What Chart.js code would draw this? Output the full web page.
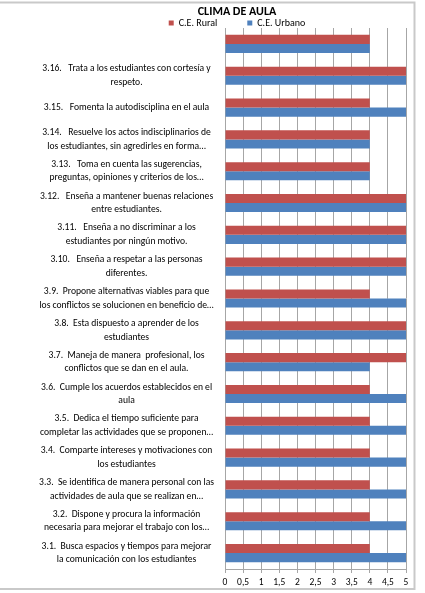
<!DOCTYPE html>
<html>
<head>
<meta charset="utf-8">
<script src="https://cdn.jsdelivr.net/npm/chart.js@4/dist/chart.umd.min.js"></script>
<style>
  html, body { margin: 0; padding: 0; background: #fff; }
  #wrap { width: 425px; height: 593px; position: relative; }
</style>
</head>
<body>
<div id="wrap"><canvas id="c" width="425" height="593"></canvas></div>
<script>
const categories = [
  '',
  ['3.16.   Trata a los estudiantes con cortesía y', 'respeto.'],
  ['3.15.   Fomenta la autodisciplina en el aula'],
  ['3.14.   Resuelve los actos indisciplinarios de', 'los estudiantes, sin agredirles en forma…'],
  ['3.13.   Toma en cuenta las sugerencias,', 'preguntas, opiniones y criterios de los…'],
  ['3.12.   Enseña a mantener buenas relaciones', 'entre estudiantes.'],
  ['3.11.   Enseña a no discriminar a los', 'estudiantes por ningún motivo.'],
  ['3.10.   Enseña a respetar a las personas', 'diferentes.'],
  ['3.9.  Propone alternativas viables para que', 'los conflictos se solucionen en beneficio de…'],
  ['3.8.  Esta dispuesto a aprender de los', 'estudiantes'],
  ['3.7.  Maneja de manera  profesional, los', 'conflictos que se dan en el aula.'],
  ['3.6.  Cumple los acuerdos establecidos en el', 'aula'],
  ['3.5.  Dedica el tiempo suficiente para', 'completar las actividades que se proponen…'],
  ['3.4.  Comparte intereses y motivaciones con', 'los estudiantes'],
  ['3.3.  Se identifica de manera personal con las', 'actividades de aula que se realizan en…'],
  ['3.2.  Dispone y procura la información', 'necesaria para mejorar el trabajo con los…'],
  ['3.1.  Busca espacios y tiempos para mejorar', 'la comunicación con los estudiantes']
];
const seriesNames = ['C.E. Rural', 'C.E. Urbano'];
const ruralValues  = [4, 5, 4, 4, 4, 5, 5, 5, 4, 5, 5, 4, 4, 4, 4, 4, 4];
const urbanoValues = [4, 5, 5, 4, 4, 5, 5, 5, 5, 5, 4, 5, 5, 5, 5, 5, 5];
const xTickLabels = ['0', '0,5', '1', '1,5', '2', '2,5', '3', '3,5', '4', '4,5', '5'];
const chartTitle = 'CLIMA DE AULA';

const FONT = 'Carlito, Lato, "Liberation Sans", sans-serif';
const GRID = '#A6A6A6';

const framePlugin = {
  id: 'frame',
  beforeDraw(chart) {
    // let the long category labels extend to the left of the axis box
    if (chart.scales.y) chart.scales.y._computeLabelArea = () => undefined;
    const ctx = chart.ctx;
    ctx.save();
    ctx.fillStyle = '#fff';
    ctx.fillRect(0, 0, chart.width, chart.height);
    ctx.strokeStyle = '#C9C9C9';
    ctx.lineWidth = 2;
    ctx.beginPath();
    ctx.moveTo(-2, 2.5);
    ctx.lineTo(414.5, 2.5);
    ctx.lineTo(414.5, 589);
    ctx.lineTo(-2, 589);
    ctx.stroke();
    ctx.restore();
  }
};

new Chart(document.getElementById('c'), {
  type: 'bar',
  data: {
    labels: categories,
    datasets: [
      { label: seriesNames[0], data: ruralValues, backgroundColor: '#C0504D', borderWidth: 0 },
      { label: seriesNames[1], data: urbanoValues, backgroundColor: '#4F81BD', borderWidth: 0 }
    ]
  },
  options: {
    indexAxis: 'y',
    responsive: false,
    animation: false,
    maintainAspectRatio: false,
    datasets: { bar: { categoryPercentage: 0.57, barPercentage: 1.0 } },
    layout: { padding: { left: 68, right: 19, top: 2, bottom: 4 } },
    plugins: {
      title: {
        display: true,
        text: chartTitle,
        color: '#000',
        font: { family: FONT, size: 12, weight: 'bold', lineHeight: 1 },
        padding: { top: 4, bottom: 0 }
      },
      legend: {
        display: true,
        maxHeight: 10,
        labels: {
          color: '#000',
          font: { family: FONT, size: 10 },
          boxWidth: 5,
          boxHeight: 5,
          padding: 0,
          generateLabels(chart) {
            const items = Chart.defaults.plugins.legend.labels.generateLabels(chart);
            if (items[0]) items[0].text = items[0].text + '\u2003\u2003\u2003';
            return items;
          }
        }
      },
      tooltip: { enabled: false }
    },
    scales: {
      x: {
        min: 0,
        max: 5,
        ticks: {
          stepSize: 0.5,
          color: '#000',
          font: { family: FONT, size: 9.5 },
          padding: 4,
          maxRotation: 0,
          autoSkip: false,
          callback: (v, i) => xTickLabels[i]
        },
        grid: { color: GRID, lineWidth: 1, tickLength: 4, drawTicks: true },
        border: { display: true, color: GRID },
        afterFit: (s) => { s.height = 20; }
      },
      y: {
        ticks: {
          color: '#000',
          font: { family: FONT, size: 9.6, lineHeight: 1.42 },
          crossAlign: 'center',
          padding: 3,
          autoSkip: false
        },
        grid: { display: false },
        border: { display: true, color: GRID },
        afterFit: (s) => { s.width = 157; }
      }
    }
  },
  plugins: [framePlugin]
});
</script>
</body>
</html>
